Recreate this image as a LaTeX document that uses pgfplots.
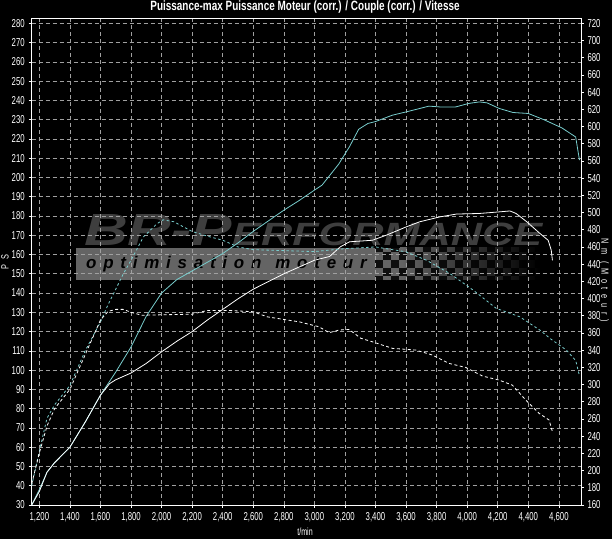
\documentclass[border=0pt]{standalone}
\usepackage{pgfplots}
\pgfplotsset{compat=1.18}
\usepackage{fontspec}
\setmainfont{Liberation Sans}
\newfontfamily\tickfont{Liberation Sans}[FakeStretch=0.68]
\newfontfamily\spacedfont{Liberation Sans}[FakeStretch=0.7, LetterSpace=45]
\newfontfamily\titlefont{Liberation Sans}[FakeStretch=0.74]
\newfontfamily\logofont{Liberation Sans}[LetterSpace=40]
\definecolor{cyanline}{RGB}{120,205,205}
\definecolor{gridgray}{RGB}{160,160,160}
\definecolor{banner}{RGB}{100,100,100}
\definecolor{logogray}{RGB}{62,62,62}

% Power (PS)
\pgfplotstableread{
rpm ps
1150 30
1200 38
1250 47
1300 52
1400 60
1500 73
1600 87
1700 99
1800 112
1900 128
2000 140
2100 147
2200 151.5
2300 156
2400 160.5
2500 166
2600 172
2700 177.5
2800 183
2900 188
3000 193.4
3050 196
3100 201
3160 207
3230 216
3290 225
3350 228
3400 229
3510 232.3
3600 234
3750 237
3820 236.6
3925 236.6
4010 238.4
4080 239.2
4130 238.7
4210 235.8
4300 233.7
4400 233.2
4510 229.7
4620 225.7
4710 221
4735 209
}\powertuned

\pgfplotstableread{
rpm ps
1150 30
1200 37
1250 47
1300 52
1400 60
1500 73
1600 87
1660 93
1700 95
1800 98.5
1900 103.5
2000 109.5
2100 115
2200 120
2300 126
2400 131.5
2500 137
2600 142
2700 146
2800 150
2900 153.5
3000 157
3100 159
3170 164
3230 166.6
3380 167.4
3470 170
3600 174.3
3690 177
3820 179.5
3930 181
4080 181.3
4190 182
4280 182.6
4320 181.3
4390 177
4475 171
4530 167.4
4550 162.3
4558 157
}\powerstock

% Torque (Nm)
\pgfplotstableread{
rpm nm
1150 182.4
1200 222.7
1250 260.8
1300 276.5
1400 298.9
1500 339.2
1600 372.8
1650 393
1700 410.9
1750 428.8
1800 444.5
1880 471.4
1970 487
2010 491.5
2080 489.3
2200 478
2300 472.5
2400 467.8
2500 460
2600 456.8
2800 455.7
3000 454.6
3200 458
3400 460
3600 454.3
3734 444.5
3886 429.2
4039 409.8
4191 388.5
4344 378.8
4475 363.4
4550 352.6
4649 340.1
4710 328
4732 312.3
}\torquetuned

\pgfplotstableread{
rpm nm
1150 184.6
1200 220.5
1250 251.8
1300 272
1400 294.4
1500 334.7
1600 375
1650 385.1
1700 387.4
1750 387.4
1800 384
1870 380.6
2000 381.1
2200 381.8
2300 386.2
2430 386.2
2600 384.7
2690 378.8
2800 375.7
2905 372.8
2944 371
3030 367.2
3097 360.3
3162 363.4
3227 364.1
3304 353.8
3380 349.7
3511 342.1
3664 340.1
3773 334.3
3881 324.6
3991 319.9
4100 309.9
4209 305.2
4296 299.3
4383 282.1
4470 266.6
4536 258.8
4558 245.1
}\torquestock

\begin{document}
\begin{tikzpicture}[x=1bp,y=1bp]
\fill[black] (0,0) rectangle (612,539);

% ---- watermark logo ----
\fill[banner] (76,259) rectangle (400,291);
\shade[left color=banner, right color=black] (400,259) rectangle (540,291);
\begin{scope}
\clip (375,255) rectangle (540,300);
\foreach \i in {0,...,21}{\foreach \j in {0,...,5}{%
  \pgfmathtruncatemacro\k{mod(\i+\j,2)}%
  \ifnum\k=0 \fill[black,opacity=0.85] (375+8*\i,255+8*\j) rectangle ++(8,8);\fi}}
\end{scope}
\node[anchor=west, inner sep=0pt] at (86,275)
  {\logofont\bfseries\itshape\fontsize{17}{17}\selectfont\color{black}optimisation\hspace{14bp}moteur};
\node[anchor=south west, inner sep=0pt, logogray] at (84,293)
  {\resizebox{458bp}{31bp}{\bfseries\itshape\fontsize{42}{42}\selectfont BR-P\fontsize{30}{30}\selectfont ERFORMANCE}};

% ---- left axis: power ----
\begin{axis}[
  at={(31.7bp,34bp)}, anchor=south west,
  width=549.3bp, height=486.7bp, scale only axis,
  xmin=1150, xmax=4745, ymin=30, ymax=282.6,
  xtick={1200,1400,...,4600}, ytick={30,40,...,280},
  xtick pos=bottom, ytick pos=left,
  tick align=outside, major tick length=3bp,
  tick style={white, line width=0.6bp},
  axis line style={white, line width=0.9bp},
  grid=major,
  major grid style={gridgray, dash pattern=on 4bp off 3bp, line width=0.6bp},
  tick label style={white, font=\tickfont\fontsize{11.5}{12}\selectfont},
  xticklabel style={yshift=-1bp},
  yticklabel style={xshift=-0.5bp},
  /pgf/number format/.cd, 1000 sep={,}, assume math mode=true,
]
\addplot[cyanline, line width=0.8bp] table[x=rpm, y=ps] {\powertuned};
\addplot[white, line width=0.8bp] table[x=rpm, y=ps] {\powerstock};
\end{axis}

% ---- right axis: torque ----
\begin{axis}[
  at={(31.7bp,34bp)}, anchor=south west,
  width=549.3bp, height=486.7bp, scale only axis,
  xmin=1150, xmax=4745, ymin=160, ymax=725.8,
  hide x axis, axis y line*=right,
  ytick={160,180,...,720},
  tick align=outside, major tick length=3bp,
  tick style={white, line width=0.6bp},
  axis line style={white, line width=0.9bp},
  tick label style={white, font=\tickfont\fontsize{11.5}{12}\selectfont},
  /pgf/number format/.cd, assume math mode=true,
]
\addplot[cyanline, line width=0.8bp, dash pattern=on 2.5bp off 2.5bp] table[x=rpm, y=nm] {\torquetuned};
\addplot[white, line width=0.8bp, dash pattern=on 3bp off 2.5bp] table[x=rpm, y=nm] {\torquestock};
\end{axis}

% ---- labels ----
\node[white, font=\titlefont\bfseries\fontsize{13.5}{14}\selectfont] at (305,531.5)
  {Puissance-max Puissance Moteur (corr.) / Couple (corr.) / Vitesse};
\node[white, font=\tickfont\fontsize{10.5}{11}\selectfont] at (305,7) {t/min};
\node[white, rotate=90, font=\spacedfont\fontsize{10.5}{11}\selectfont] at (5,277) {PS};
\node[white, rotate=-90, font=\spacedfont\fontsize{10.5}{11}\selectfont] at (604,259) {Nm (Moteur)};

\pgfresetboundingbox
\useasboundingbox (0,0) rectangle (612,539);
\end{tikzpicture}
\end{document}
